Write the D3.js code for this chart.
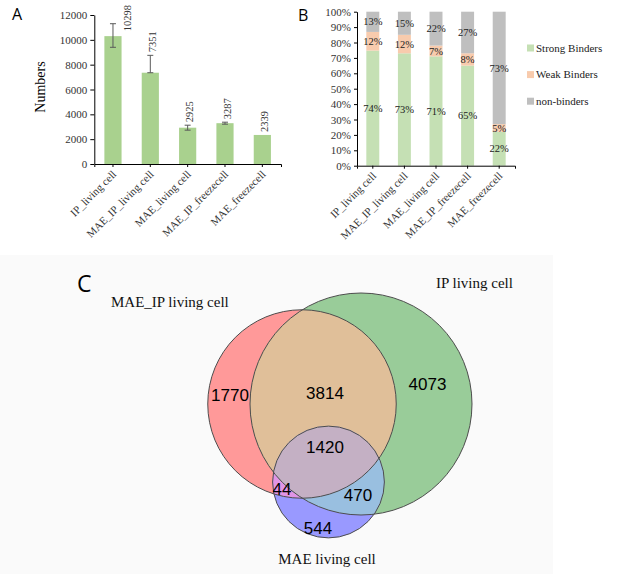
<!DOCTYPE html>
<html>
<head>
<meta charset="utf-8">
<script src="https://cdn.jsdelivr.net/npm/d3@7"></script>
<style>
  body { margin: 0; background: #fff; }
  .serif { font-family: "Liberation Serif", "Times New Roman", serif; }
  .axis path, .axis line { stroke: #000; }
  .axis text { font-family: "Liberation Serif", serif; fill: #333; }
</style>
</head>
<body>
<svg id="chart" width="617" height="574"></svg>
<script>
// ---- panel A data
var samples = ["IP_living cell", "MAE_IP_living cell", "MAE_living cell", "MAE_IP_freezecell", "MAE_freezecell"];
var peptideCounts = [10298, 7351, 2925, 3287, 2339];
var errPlus = [1000, 1400, 200, 80, 0];
var errMinus = [900, 0, 200, 80, 0];
var countTicks = [0, 2000, 4000, 6000, 8000, 10000, 12000];

// ---- panel B data (percent)
var binderKeys = ["Strong Binders", "Weak Binders", "non-binders"];
var strongPct = [74, 73, 71, 65, 22];
var weakPct = [12, 12, 7, 8, 5];
var nonPct = [13, 15, 22, 27, 73];
var pctTicks = [0, 0.1, 0.2, 0.3, 0.4, 0.5, 0.6, 0.7, 0.8, 0.9, 1];

// ---- panel C data
var vennSets = ["MAE_IP living cell", "IP living cell", "MAE living cell"];
var vennRegions = ["A", "B", "C", "AB", "AC", "BC", "ABC"];
var vennCounts = [1770, 4073, 544, 3814, 44, 470, 1420];

var svg = d3.select("#chart");

// light panel background behind the venn
svg.append("rect").attr("x", 0).attr("y", 255).attr("width", 553).attr("height", 319).attr("fill", "#fafafa");

// panel letters
svg.append("text").attr("x", 12).attr("y", 20).style("font-family", "Open Sans").style("font-size", "16px").text("A");
svg.append("text").attr("x", 298).attr("y", 21).style("font-family", "Open Sans").style("font-size", "16px").text("B");
svg.append("text").attr("x", 77).attr("y", 292).style("font-family", "Open Sans").style("font-size", "23px").text("C");

// ================= panel A
var xA = d3.scaleBand().domain(samples).range([94.3, 281]);
var yA = d3.scaleLinear().domain([0, 12000]).range([164, 15]);
var barWA = xA.bandwidth() * 0.46;

var gA = svg.append("g");

gA.selectAll(".barA")
    .data(peptideCounts)
    .enter().append("rect")
    .attr("class", "barA")
    .attr("x", function(d, i) { return xA(samples[i]) + xA.bandwidth() / 2 - barWA / 2; })
    .attr("y", function(d) { return yA(d); })
    .attr("width", barWA)
    .attr("height", function(d) { return yA(0) - yA(d); })
    .attr("fill", "#a9d18e");

// error bars
peptideCounts.forEach(function(v, i) {
    if (errPlus[i] == 0 && errMinus[i] == 0) return;
    var cx = xA(samples[i]) + xA.bandwidth() / 2;
    var top = yA(v + errPlus[i]), bot = yA(v - errMinus[i]);
    gA.append("line").attr("x1", cx).attr("x2", cx).attr("y1", top).attr("y2", bot)
        .attr("stroke", "#595959").attr("stroke-width", 1);
    [top, bot].forEach(function(yy) {
        gA.append("line").attr("x1", cx - 3).attr("x2", cx + 3).attr("y1", yy).attr("y2", yy)
            .attr("stroke", "#595959").attr("stroke-width", 1);
    });
});

// value labels, rotated
peptideCounts.forEach(function(v, i) {
    var cx = xA(samples[i]) + xA.bandwidth() / 2;
    var bottom = yA(v + errPlus[i]) - 3;
    var lx = cx + 2;
    if (bottom - 28 < 8) { // no room above -> beside the error bar
        bottom = yA(v) - 5;
        lx = cx + 14;
    }
    gA.append("text")
        .attr("class", "serif")
        .attr("transform", "translate(" + lx + "," + bottom + ") rotate(-90)")
        .attr("dy", "0.35em")
        .style("font-size", "10.5px")
        .style("fill", "#333")
        .text(v);
});

gA.append("g")
    .attr("class", "axis")
    .attr("transform", "translate(94.3,0)")
    .call(d3.axisLeft(yA).tickValues(countTicks).tickSize(4).tickSizeOuter(0).tickFormat(d3.format("d")))
    .selectAll("text").style("font-size", "11px");

var axA = gA.append("g")
    .attr("class", "axis")
    .attr("transform", "translate(0,164)")
    .call(d3.axisBottom(xA).tickSize(3).tickSizeOuter(3));
axA.selectAll("text")
    .style("font-size", "11px")
    .style("text-anchor", "end")
    .attr("y", 0).attr("x", 0).attr("dy", 0)
    .attr("transform", "translate(4,11) rotate(-45)");

gA.append("text")
    .attr("class", "serif")
    .attr("transform", "translate(45,87) rotate(-90)")
    .style("text-anchor", "middle")
    .style("font-size", "14px")
    .text("Numbers");

// ================= panel B
var rowsB = samples.map(function(s, i) {
    return { sample: s, "Strong Binders": strongPct[i], "Weak Binders": weakPct[i], "non-binders": nonPct[i] };
});
var stackB = d3.stack().keys(binderKeys).offset(d3.stackOffsetExpand)(rowsB);
var colorB = d3.scaleOrdinal().domain(binderKeys).range(["#c5e0b4", "#f8cbad", "#bfbfbf"]);

var xB = d3.scaleBand().domain(samples).range([357, 515]);
var yB = d3.scaleLinear().domain([0, 1]).range([165.7, 11.7]);
var barWB = xB.bandwidth() * 0.41;

var gB = svg.append("g");

var layers = gB.selectAll(".layer")
    .data(stackB)
    .enter().append("g")
    .attr("class", "layer")
    .attr("fill", function(d) { return colorB(d.key); });

layers.selectAll("rect")
    .data(function(d) { return d; })
    .enter().append("rect")
    .attr("x", function(d) { return xB(d.data.sample) + xB.bandwidth() / 2 - barWB / 2; })
    .attr("y", function(d) { return yB(d[1]); })
    .attr("width", barWB)
    .attr("height", function(d) { return yB(d[0]) - yB(d[1]); });

stackB.forEach(function(layer) {
    layer.forEach(function(d) {
        gB.append("text")
            .attr("class", "serif")
            .attr("x", xB(d.data.sample) + xB.bandwidth() / 2)
            .attr("y", yB((d[0] + d[1]) / 2))
            .attr("dy", "0.35em")
            .style("text-anchor", "middle")
            .style("font-size", "10.5px")
            .style("fill", "#222")
            .text(d.data[layer.key] + "%");
    });
});

gB.append("g")
    .attr("class", "axis")
    .attr("transform", "translate(357,0)")
    .call(d3.axisLeft(yB).tickValues(pctTicks).tickSize(3).tickSizeOuter(0).tickFormat(d3.format(".0%")))
    .selectAll("text").style("font-size", "11px");

var axB = gB.append("g")
    .attr("class", "axis")
    .attr("transform", "translate(0,165.7)")
    .call(d3.axisBottom(xB).tickSize(3).tickSizeOuter(3));
axB.selectAll("text")
    .style("font-size", "11px")
    .style("text-anchor", "end")
    .attr("y", 0).attr("x", 0).attr("dy", 0)
    .attr("transform", "translate(4,11) rotate(-45)");

// legend
var legend = gB.selectAll(".legend")
    .data(binderKeys)
    .enter().append("g")
    .attr("class", "legend")
    .attr("transform", function(d, i) { return "translate(527," + (48 + i * 26.6) + ")"; });
legend.append("rect").attr("x", 0).attr("y", -3.5).attr("width", 7).attr("height", 7)
    .attr("fill", function(d) { return colorB(d); });
legend.append("text").attr("class", "serif").attr("x", 9).attr("dy", "0.35em")
    .style("font-size", "11px").style("fill", "#222")
    .text(function(d) { return d; });

// ================= panel C (venn)
var setTotals = vennSets.map(function(s, si) {
    var key = "ABC"[si];
    return d3.sum(vennRegions.map(function(r, j) { return r.indexOf(key) >= 0 ? vennCounts[j] : 0; }));
});
var rScale = d3.scaleSqrt().domain([0, d3.max(setTotals)]).range([0, 111]);

// layout of the three circles and region labels
var centres = { A: [302, 404], B: [361, 404], C: [328.5, 482] };
var regionPos = { A: [230, 395], B: [427.5, 384], C: [318, 528], AB: [325, 393], AC: [282, 489], BC: [358, 495], ABC: [325, 447] };
var regionFill = { A: "#ff9999", B: "#99cc99", C: "#9999ff", AB: "#e0bf99", AC: "#e095e6", BC: "#99bfe0", ABC: "#c4b0c4" };

var circles = ["A", "B", "C"].map(function(k, i) {
    return { key: k, cx: centres[k][0], cy: centres[k][1], r: rScale(setTotals[i]) };
});
var circ = {};
circles.forEach(function(c) { circ[c.key] = c; });

var gC = svg.append("g");
var defs = svg.append("defs");
circles.forEach(function(c) {
    defs.append("clipPath").attr("id", "clip" + c.key)
        .append("circle").attr("cx", c.cx).attr("cy", c.cy).attr("r", c.r);
});

function disc(parent, c, fill) {
    return parent.append("circle").attr("cx", c.cx).attr("cy", c.cy).attr("r", c.r).attr("fill", fill);
}

// single sets
circles.forEach(function(c) { disc(gC, c, regionFill[c.key]); });
// pairwise overlaps
disc(gC.append("g").attr("clip-path", "url(#clipA)"), circ.B, regionFill.AB);
disc(gC.append("g").attr("clip-path", "url(#clipA)"), circ.C, regionFill.AC);
disc(gC.append("g").attr("clip-path", "url(#clipB)"), circ.C, regionFill.BC);
// triple overlap
disc(gC.append("g").attr("clip-path", "url(#clipB)").append("g").attr("clip-path", "url(#clipA)"), circ.C, regionFill.ABC);

// outlines
gC.selectAll(".outline")
    .data(circles)
    .enter().append("circle")
    .attr("class", "outline")
    .attr("cx", function(d) { return d.cx; })
    .attr("cy", function(d) { return d.cy; })
    .attr("r", function(d) { return d.r; })
    .attr("fill", "none")
    .attr("stroke", "#4d4d4d")
    .attr("stroke-width", 1);

gC.selectAll(".count")
    .data(vennRegions)
    .enter().append("text")
    .attr("class", "count")
    .attr("x", function(d) { return regionPos[d][0]; })
    .attr("y", function(d) { return regionPos[d][1]; })
    .attr("dy", "0.35em")
    .style("text-anchor", "middle")
    .style("font-family", "Liberation Sans, Arial, sans-serif")
    .style("font-size", "17px")
    .text(function(d, i) { return vennCounts[i]; });

var setLabelPos = [[111, 307, "start"], [436, 288, "start"], [327, 564, "middle"]];
vennSets.forEach(function(s, i) {
    gC.append("text")
        .attr("class", "serif")
        .attr("x", setLabelPos[i][0])
        .attr("y", setLabelPos[i][1])
        .style("text-anchor", setLabelPos[i][2])
        .style("font-size", "15px")
        .style("fill", "#111")
        .text(s);
});
</script>
</body>
</html>
